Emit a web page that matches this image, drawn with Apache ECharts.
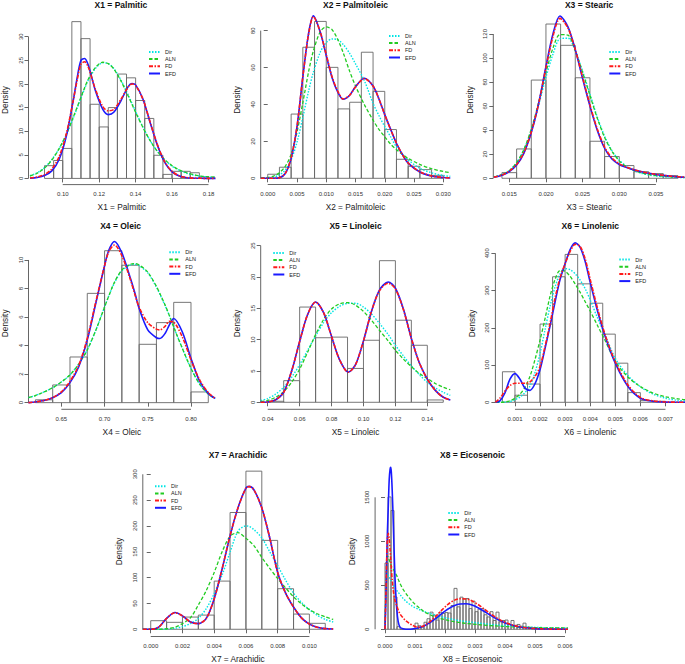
<!DOCTYPE html>
<html><head><meta charset="utf-8">
<script src="https://cdn.jsdelivr.net/npm/echarts@6/dist/echarts.min.js"></script>
<style>html,body{margin:0;padding:0;background:#fff}#c{width:685px;height:664px}</style>
</head><body><div id="c"></div><script>
// ---------------- DATA ----------------
// Panel 1: X1 = Palmitic
const p1_binStart = 0.090, p1_binWidth = 0.005;
const p1_hist = [2.7,3.8,6.35,33.2,29.6,15.7,10.9,15.0,22.1,21.3,16.5,12.7,4.9,0.85,1.5,1.5,1.2,0.35];
const p1_x   = [0.082,0.086,0.090,0.094,0.098,0.102,0.106,0.108,0.110,0.112,0.114,0.118,0.122,0.125,0.128,0.132,0.136,0.138,0.140,0.144,0.148,0.152,0.156,0.160,0.164,0.168,0.172,0.176,0.180,0.1838];
const p1_efd = [0.05,0.2,0.6,1.6,4.0,9.0,17.0,21.5,25.0,25.4,24.0,18.5,14.6,13.5,14.0,16.5,19.5,20.1,19.8,16.8,11.8,7.0,3.4,1.4,0.5,0.15,0.05,0.02,0.01,0];
const p1_fd  = [0.1,0.3,0.8,2.0,4.6,9.5,17.0,21.0,24.2,24.7,23.6,18.8,15.2,14.3,14.6,16.8,19.4,20.0,19.7,16.8,11.9,7.1,3.5,1.5,0.55,0.18,0.06,0.02,0.01,0];
const p1_dir = [0.6,1.2,2.3,4.0,6.3,9.3,13.0,15.0,17.0,19.0,20.8,23.3,24.5,24.3,23.3,20.8,17.6,15.9,14.2,10.9,8.0,5.7,3.9,2.6,1.7,1.1,0.7,0.45,0.3,0.2];
const p1_aln = [0.5,1.1,2.2,3.9,6.3,9.4,13.2,15.2,17.2,19.2,21.0,23.5,24.6,24.3,23.2,20.6,17.4,15.7,14.0,10.8,8.0,5.7,4.0,2.7,1.8,1.2,0.8,0.5,0.35,0.25];
const p1_xticks = [0.10,0.12,0.14,0.16,0.18];
const p1_yticks = [0,5,10,15,20,25,30];

// Panel 2: X2 = Palmitoleic
const p2_binStart = 0.000, p2_binWidth = 0.002;
const p2_hist = [2.2,6.0,34.8,71.0,85.0,60.1,37.6,41.2,68.3,47.1,26.4,10.3,6.5,4.7,1.6];
const p2_x   = [-0.0012,0.000,0.001,0.002,0.003,0.004,0.005,0.006,0.007,0.0078,0.009,0.010,0.011,0.012,0.0129,0.014,0.015,0.0165,0.018,0.019,0.020,0.021,0.022,0.023,0.024,0.026,0.028,0.030,0.0312];
const p2_fd  = [0,0,0.02,0.3,2.7,11,28,55,78.5,87.5,79,67,55,47,43,45,49.5,54,50,43,34.5,26.5,19,13,8.3,3.5,1.3,0.4,0.2];
const p2_efd = [0,0,0.02,0.3,2.6,10.8,27.8,55,78.8,88,79,66.5,54.5,46.5,42.8,45,49.6,54.2,50,43,34.5,26.5,19,13,8.2,3.4,1.2,0.4,0.2];
const p2_dir = [0.1,0.3,0.7,1.8,4.5,10,19.5,33,47.5,57.5,68.5,73.5,75.5,75,72.5,67.7,62,53,40.6,34,28,22.5,17,13.2,10,5.4,3,1.5,1.1];
const p2_aln = [0.2,0.5,1.2,3,6.5,13,25,41,58,69,79.5,82,80.5,75,68,58,50,40,31.5,26.5,22.5,18.5,15.5,13,10.8,7.5,5.2,3.7,3.1];
const p2_xticks = [0.000,0.005,0.010,0.015,0.020,0.025,0.030];
const p2_yticks = [0,20,40,60,80];

// Panel 3: X3 = Stearic
const p3_binStart = 0.014, p3_binWidth = 0.002;
const p3_hist = [4.7,24.4,81.7,128.3,110.6,83.6,30.8,18.1,10.6,5.5,3.9,2.2];
const p3_x   = [0.0129,0.014,0.015,0.016,0.017,0.018,0.019,0.020,0.021,0.0219,0.023,0.024,0.025,0.026,0.027,0.028,0.029,0.030,0.031,0.032,0.033,0.034,0.035,0.036,0.037,0.038,0.0389];
const p3_efd = [0.8,2.5,5.5,11,21,38,62,93,121,135,126,107,83,60,40,25,16,11.5,9,7,5.5,4.2,3.2,2.4,1.7,1.2,0.9];
const p3_fd  = [1.0,2.8,6,11.5,21.5,38.5,62,92,119,133,125,107,84,61,41,26,17,12,9.3,7.2,5.6,4.3,3.3,2.5,1.8,1.3,1.0];
const p3_dir = [1.2,3.2,6.5,13,24,40,61,84,104,116,116.5,106,89,70,51,35,23,15,10,6.5,4.2,2.8,1.9,1.3,0.9,0.6,0.5];
const p3_aln = [1.0,3.0,6.3,13,24,41,63,88,109,119.5,119,106,88,69,50,34,22.5,14.5,9.5,6.5,4.5,3.2,2.3,1.7,1.2,0.9,0.7];
const p3_xticks = [0.015,0.020,0.025,0.030,0.035];
const p3_yticks = [0,20,40,60,80,100,120];

// Panel 4: X4 = Oleic
const p4_binStart = 0.62, p4_binWidth = 0.02;
const p4_hist = [0.2,1.24,3.2,7.66,10.65,9.63,4.09,5.61,7.03,0.75];
const p4_x   = [0.612,0.62,0.63,0.64,0.65,0.66,0.67,0.68,0.69,0.70,0.705,0.7115,0.72,0.73,0.735,0.74,0.75,0.76,0.764,0.77,0.775,0.78,0.79,0.80,0.81,0.82,0.828];
const p4_efd = [0.0,0.05,0.15,0.35,0.7,1.4,2.5,4.4,7.0,9.6,10.7,11.3,10.5,8.7,7.7,6.6,5.1,4.55,4.5,4.85,5.45,5.9,4.95,3.1,1.5,0.65,0.3];
const p4_fd  = [0.0,0.05,0.15,0.35,0.75,1.5,2.6,4.5,7.1,9.6,10.6,11.05,10.3,8.6,7.6,6.7,5.6,5.15,5.1,5.35,5.7,5.65,4.6,3.0,1.6,0.7,0.3];
const p4_dir = [0.35,0.5,0.75,1.05,1.45,1.95,2.7,3.7,5.1,6.7,7.5,8.4,9.25,9.65,9.7,9.6,9.1,8.1,7.6,6.8,6.1,5.3,3.8,2.4,1.3,0.6,0.3];
const p4_aln = [0.35,0.5,0.75,1.05,1.45,1.95,2.7,3.7,5.1,6.7,7.5,8.45,9.3,9.7,9.75,9.65,9.15,8.15,7.65,6.85,6.1,5.3,3.8,2.4,1.3,0.6,0.3];
const p4_xticks = [0.65,0.70,0.75,0.80];
const p4_yticks = [0,2,4,6,8,10];

// Panel 5: X5 = Linoleic
const p5_binStart = 0.04, p5_binWidth = 0.01;
const p5_hist = [0.16,3.45,15.2,10.3,10.4,5.4,9.9,22.6,13.1,9.1,0.37];
const p5_x   = [0.0356,0.040,0.045,0.050,0.055,0.060,0.065,0.070,0.075,0.080,0.085,0.0905,0.095,0.100,0.105,0.110,0.1155,0.120,0.125,0.130,0.135,0.140,0.145,0.150,0.1544];
const p5_fd  = [0,0.05,0.4,1.6,5.0,9.7,14.0,16.0,14.3,10.5,6.8,4.8,6.0,9.8,14.5,17.8,19.0,18.1,14.8,10.2,6.3,3.7,1.9,0.8,0.35];
const p5_efd = [0,0.05,0.4,1.6,5.0,9.7,14.0,16.0,14.3,10.5,6.8,4.8,6.0,9.8,14.5,17.9,19.2,18.2,14.9,10.2,6.3,3.7,1.9,0.8,0.35];
const p5_dir = [0.3,0.6,1.3,2.4,4.0,6.0,8.3,10.6,12.7,14.3,15.3,15.8,15.8,15.2,14.1,12.6,10.8,9.1,7.4,5.8,4.4,3.2,2.3,1.6,1.1];
const p5_aln = [0.1,0.3,0.8,1.7,3.2,5.3,8.0,10.8,13.2,14.9,15.7,15.9,15.5,14.5,13.1,11.5,9.8,8.3,6.9,5.7,4.6,3.8,3.0,2.4,2.0];
const p5_xticks = [0.04,0.06,0.08,0.10,0.12,0.14];
const p5_yticks = [0,5,10,15,20,25];

// Panel 6: X6 = Linolenic
const p6_binStart = 0.0005, p6_binWidth = 0.0005;
const p6_hist = [82,19,49,210,337,397,318,266,183,105,26,4.5,2.7];
const p6_x   = [0.00022,0.0004,0.0006,0.0008,0.001,0.0012,0.0014,0.0016,0.0018,0.002,0.0022,0.0024,0.0026,0.0028,0.003,0.0032,0.0034,0.0036,0.0038,0.004,0.0043,0.0046,0.005,0.0055,0.006,0.0065,0.007,0.0075,0.00778];
const p6_efd = [0,4,25,62,77,62,38,32,50,88,145,205,270,330,372,410,428,416,378,322,243,176,105,43,11,2.7,0.5,0.1,0];
const p6_fd  = [0,11,30,45,51,51,51,55,70,96,150,212,280,335,372,405,424,418,385,330,250,180,109,47,13,4,1,0.2,0];
const p6_dir = [0,0,0.5,2,7,14,26,44,80,131,195,258,310,345,359,356,345,328,305,275,225,180,118,72,42,22,11,5,3.5];
const p6_aln = [0,0,1,4,11,22,40,70,115,167,225,285,330,354,352,338,318,295,270,245,205,165,110,68,42,25,15,9,7];
const p6_xticks = [0.001,0.002,0.003,0.004,0.005,0.006,0.007];
const p6_yticks = [0,100,200,300,400];

// Panel 7: X7 = Arachidic
const p7_binStart = 0.000, p7_binWidth = 0.001;
const p7_hist = [16.6,13.4,23.6,27.4,93.2,226,306,172,78.5,29.4,11.5];
const p7_x   = [-0.0005,0.000,0.0005,0.001,0.00153,0.002,0.0025,0.003,0.0035,0.004,0.0045,0.005,0.0055,0.006,0.0062,0.0065,0.007,0.0075,0.008,0.0085,0.009,0.0095,0.010,0.0105,0.011,0.0115];
const p7_fd  = [0,0,4,21,32,26,14,11,21,59,117,181,235,273,276,270,235,177,110,70,43,22,10,4,1.3,0.6];
const p7_efd = [0,0,4,21,32.5,26,14,11,21,59,117,181,235,273,276.5,270,235,177,110,70,43,22,10,4,1.3,0.6];
const p7_dir = [0,0,0,0.5,2,5,11,21,40,69,105,149,190,200,199,193,177,150,123,95,70,52,38,27,19,14];
const p7_aln = [0,0,0,1,4,11,22,47,75,110,150,180,187,176,171,162,139,118,98,80,63,49,38,30,24,19];
const p7_xticks = [0.000,0.002,0.004,0.006,0.008,0.010];
const p7_yticks = [0,50,100,150,200,250,300];

// Panel 8: X8 = Eicosenoic
const p8_binStart = 0.0000, p8_binWidth = 0.0001;
const p8_hist = [754,1504,1350,367,30,0,0,0,0,0,
                 70,40,25,80,120,195,160,105,195,180,
                 190,185,270,465,255,365,345,350,235,320,
                 200,230,235,165,140,200,100,195,85,100,
                 105,55,100,45,55,35,70,25,15,10,
                 15,8,10,5,8,3,5,2,4,2];
const p8_x   = [0,0.00003,0.00006,0.00008,0.00011,0.00014,0.00017,0.00019,0.00021,0.00024,0.00028,0.00033,0.00039,0.00044,0.0005,0.0006,0.0007,0.0008,0.0009,0.001,0.0011,0.0012,0.0013,0.0015,0.0017,0.0019,0.0021,0.0023,0.0025,0.0027,0.0029,0.0031,0.0033,0.0035,0.0037,0.0039,0.0041,0.0043,0.0045,0.0047,0.005,0.0053,0.0056,0.006,0.0061];
const p8_efd = [0,330,820,1100,1400,1700,1820,1840,1790,1580,1170,610,240,86,25,6,1,1,3,8,15,25,38,75,125,180,230,268,288,290,275,245,205,163,122,88,60,40,26,17,8,4,2,0.5,0.3];
const p8_fd  = [0,400,850,1030,1090,1030,900,800,700,560,430,330,270,220,175,130,95,70,48,32,25,28,40,88,150,220,283,328,347,345,322,282,232,180,135,95,65,43,28,18,9,4,2,0.5,0.3];
const p8_dir = [0,500,650,640,615,592,574,560,545,525,500,470,442,420,395,352,318,290,265,245,230,215,202,180,161,140,124,110,97,88,80,72,64,56,50,45,41,36,30,27,22,19,17,15,14];
const p8_aln = [0,450,780,835,820,790,760,740,720,700,680,650,610,570,520,455,405,360,320,285,255,228,200,165,135,118,100,86,76,67,60,54,48,42,38,34,30,27,24,22,19,17,16,15,14];
const p8_xticks = [0.000,0.001,0.002,0.003,0.004,0.005,0.006];
const p8_yticks = [0,500,1000,1500];

const seriesNames = ['Dir','ALN','FD','EFD'];

// ---------------- LAYOUT / STYLE ----------------
const FONT = '"Liberation Sans", Arial, Helvetica, sans-serif';
const STYLES = {
  Dir: {color:'#00e5e5', width:1.4, type:[1.5,1.5]},
  ALN: {color:'#22cc22', width:1.3, type:[3.5,2]},
  FD:  {color:'#ff1a1a', width:1.6, type:[4,1.5,1.5,1.5]},
  EFD: {color:'#1a1aff', width:1.6, type:'solid'}
};
const panels = [
  {title:'X1 = Palmitic',   grid:[26.4,15.5,189.0,169.1],  xr:[0.0812,0.1838],   yr:[-1.31,34.5],  xd:2, ty:4.5,
   bs:p1_binStart,bw:p1_binWidth,h:p1_hist,x:p1_x,dir:p1_dir,aln:p1_aln,fd:p1_fd,efd:p1_efd,xt:p1_xticks,yt:p1_yticks, leg:[148,48.9]},
  {title:'X2 = Palmitoleic',grid:[260.7,15.5,189.6,169.0], xr:[-0.0012,0.0312],  yr:[-3.36,88.2],  xd:3, ty:4.5,
   bs:p2_binStart,bw:p2_binWidth,h:p2_hist,x:p2_x,dir:p2_dir,aln:p2_aln,fd:p2_fd,efd:p2_efd,xt:p2_xticks,yt:p2_yticks, leg:[388,32.9]},
  {title:'X3 = Stearic',    grid:[493.3,15.5,191.6,169.0], xr:[0.01282,0.03895], yr:[-5.16,135.4], xd:3, ty:4.5,
   bs:p3_binStart,bw:p3_binWidth,h:p3_hist,x:p3_x,dir:p3_dir,aln:p3_aln,fd:p3_fd,efd:p3_efd,xt:p3_xticks,yt:p3_yticks, leg:[608.3,48.9]},
  {title:'X4 = Oleic',      grid:[26.0,237.3,189.2,172.0], xr:[0.612,0.828],     yr:[-0.466,11.59],xd:2, ty:226,
   bs:p4_binStart,bw:p4_binWidth,h:p4_hist,x:p4_x,dir:p4_dir,aln:p4_aln,fd:p4_fd,efd:p4_efd,xt:p4_xticks,yt:p4_yticks, leg:[168.3,249.2]},
  {title:'X5 = Linoleic',   grid:[260.7,237.5,189.6,171.8],xr:[0.0356,0.1544],   yr:[-1.12,26.3],  xd:2, ty:226,
   bs:p5_binStart,bw:p5_binWidth,h:p5_hist,x:p5_x,dir:p5_dir,aln:p5_aln,fd:p5_fd,efd:p5_efd,xt:p5_xticks,yt:p5_yticks, leg:[272.3,249.9]},
  {title:'X6 = Linolenic',  grid:[495.4,237.5,189.8,171.8],xr:[0.00022,0.00778], yr:[-18.8,442.4], xd:3, ty:226,
   bs:p6_binStart,bw:p6_binWidth,h:p6_hist,x:p6_x,dir:p6_dir,aln:p6_aln,fd:p6_fd,efd:p6_efd,xt:p6_xticks,yt:p6_yticks, leg:[618.3,256.5]},
  {title:'X7 = Arachidic',  grid:[142.8,466.5,190.4,171.8],xr:[-0.0005,0.0115],  yr:[-14,315],     xd:3, ty:455,
   bs:p7_binStart,bw:p7_binWidth,h:p7_hist,x:p7_x,dir:p7_dir,aln:p7_aln,fd:p7_fd,efd:p7_efd,xt:p7_xticks,yt:p7_yticks, leg:[154,483.2]},
  {title:'X8 = Eicosenoic', grid:[375.1,466.5,195.0,171.7],xr:[-0.00033,0.00617],yr:[-82,1850],    xd:3, ty:455,
   bs:p8_binStart,bw:p8_binWidth,h:p8_hist,x:p8_x,dir:p8_dir,aln:p8_aln,fd:p8_fd,efd:p8_efd,xt:p8_xticks,yt:p8_yticks, leg:[447.3,509.9]}
];

const grids=[], xAxes=[], yAxes=[], series=[], titles=[], legends=[];
const AX = '#555', TXT = '#222';
panels.forEach((p,i)=>{
  grids.push({left:p.grid[0], top:p.grid[1], width:p.grid[2], height:p.grid[3]});
  xAxes.push({type:'value', gridIndex:i, min:p.xr[0], max:p.xr[1],
    name:p.title, nameLocation:'middle', nameGap:18.5,
    nameTextStyle:{fontSize:8.3, color:TXT, fontFamily:FONT},
    axisLine:{show:false}, splitLine:{show:false},
    axisTick:{show:true, length:4, customValues:p.xt, lineStyle:{color:AX, width:0.9}},
    axisLabel:{customValues:p.xt, formatter:(v)=>Number(v).toFixed(p.xd), margin:6.5, fontSize:6, color:'#333', fontFamily:FONT}});
  yAxes.push({type:'value', gridIndex:i, min:p.yr[0], max:p.yr[1],
    name:'Density', nameLocation:'middle', nameGap:19.5,
    nameTextStyle:{fontSize:8.3, color:TXT, fontFamily:FONT},
    axisLine:{show:false}, splitLine:{show:false},
    axisTick:{show:true, length:4, customValues:p.yt, lineStyle:{color:AX, width:0.9}},
    axisLabel:{customValues:p.yt, formatter:(v)=>String(Math.round(Number(v))), rotate:90, margin:5, fontSize:6, color:'#333', fontFamily:FONT}});
  titles.push({text:p.title, left:p.grid[0]+p.grid[2]/2, top:p.ty-4.25, textAlign:'center', padding:0, itemGap:0,
    textStyle:{fontSize:8.5, lineHeight:8.5, fontWeight:'bold', color:'#111', fontFamily:FONT}});
  legends.push({data:seriesNames, orient:'vertical', left:p.leg[0], top:p.leg[1], padding:0, itemGap:1.2,
    itemWidth:11, itemHeight:5, selectedMode:false,
    itemStyle:{opacity:0, borderWidth:0},
    textStyle:{fontSize:5.5, lineHeight:5.5, color:TXT, fontFamily:FONT}});
  // histogram
  series.push({type:'custom', xAxisIndex:i, yAxisIndex:i, silent:true, z:1,
    data:p.h.map((v,k)=>[p.bs+k*p.bw, p.bs+(k+1)*p.bw, v]),
    encode:{x:[0,1], y:2},
    renderItem:(params, api)=>{
      const a = api.coord([api.value(0), api.value(2)]);
      const b = api.coord([api.value(1), 0]);
      return {type:'rect', shape:{x:a[0], y:a[1], width:b[0]-a[0], height:b[1]-a[1]},
              style:{fill:'none', stroke:'#686868', lineWidth:0.9}};
    }});
  // density curves
  ['Dir','ALN','EFD','FD'].forEach(n=>{
    const ys = p[n.toLowerCase()];
    series.push({type:'line', name:n, xAxisIndex:i, yAxisIndex:i, silent:true, z:3,
      data:p.x.map((xv,k)=>[xv, ys[k]]), symbol:'none', showSymbol:false, smooth:0.3,
      lineStyle:STYLES[n], itemStyle:{color:STYLES[n].color}});
  });
  // axis line segments spanning first..last tick (R style)
  series.push({type:'line', xAxisIndex:i, yAxisIndex:i, silent:true, clip:false, symbol:'none', z:2,
    data:[[p.xt[0], p.yr[0]], [p.xt[p.xt.length-1], p.yr[0]]], lineStyle:{color:AX, width:0.9}});
  series.push({type:'line', xAxisIndex:i, yAxisIndex:i, silent:true, clip:false, symbol:'none', z:2,
    data:[[p.xr[0], p.yt[0]], [p.xr[0], p.yt[p.yt.length-1]]], lineStyle:{color:AX, width:0.9}});
});

const chart = echarts.init(document.getElementById('c'), null, {renderer:'svg', width:685, height:664});
chart.setOption({
  animation:false, backgroundColor:'#fff',
  textStyle:{fontFamily:FONT},
  title:titles, legend:legends, grid:grids, xAxis:xAxes, yAxis:yAxes, series:series
});
</script></body></html>
